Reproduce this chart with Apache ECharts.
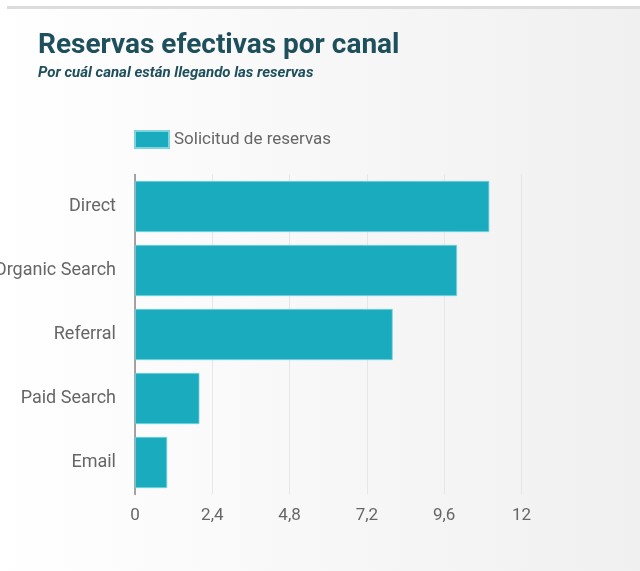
<!DOCTYPE html>
<html><head><meta charset="utf-8">
<script src="https://cdn.jsdelivr.net/npm/echarts@6/dist/echarts.min.js"></script>
<style>html,body{margin:0;padding:0;background:#fff}#c{width:640px;height:571px}</style>
</head><body><div id="c"></div>
<script>
const categories = ['Direct', 'Organic Search', 'Referral', 'Paid Search', 'Email'];
const values = [11, 10, 8, 2, 1];
const seriesName = 'Solicitud de reservas';
const titleText = 'Reservas efectivas por canal';
const subtitleText = 'Por cuál canal están llegando las reservas';

const chart = echarts.init(document.getElementById('c'), null, {renderer: 'canvas'});
chart.setOption({
  backgroundColor: '#ffffff',
  animation: false,
  graphic: [
    {type: 'rect', z: -10, shape: {x: 0, y: 8, width: 640, height: 563},
     style: {fill: new echarts.graphic.LinearGradient(0, 0, 1, 0, [
       {offset: 0, color: '#ffffff'}, {offset: 1, color: '#f0f0f0'}])}},
    {type: 'rect', z: -9, shape: {x: 7, y: 6, width: 633, height: 3},
     style: {fill: '#dcdcdc'}}
  ],
  title: {
    text: titleText, subtext: subtitleText, left: 33, top: 27, itemGap: 6,
    textStyle: {fontFamily: 'Roboto', fontWeight: 'bold', fontSize: 28, color: '#1d4f5c'},
    subtextStyle: {fontFamily: 'Roboto', fontWeight: 'bold', fontStyle: 'italic', fontSize: 15, color: '#1d4f5c'}
  },
  legend: {
    left: 129, top: 125, itemWidth: 34, itemHeight: 17, icon: 'rect', itemGap: 8,
    textStyle: {fontFamily: 'Roboto', fontSize: 17, color: '#666'},
    data: [seriesName]
  },
  grid: {left: 135, right: 118.5, top: 174.5, bottom: 76.5, containLabel: false, outerBoundsMode: 'none'},
  xAxis: {
    type: 'value', min: 0, max: 12, interval: 2.4,
    axisLine: {show: false}, axisTick: {show: false},
    splitLine: {lineStyle: {color: '#e6e6e6', width: 1}},
    axisLabel: {fontFamily: 'Roboto', fontSize: 17, color: '#666', margin: 13,
      formatter: v => String(Math.round(v * 10) / 10).replace('.', ',')}
  },
  yAxis: {
    type: 'category', data: categories, inverse: true,
    axisLine: {lineStyle: {color: '#888', width: 1.5}}, axisTick: {show: false},
    axisLabel: {fontFamily: 'Roboto', fontSize: 18, color: '#666', margin: 19}
  },
  series: [{
    name: seriesName, type: 'bar', data: values, barCategoryGap: '20%',
    itemStyle: {color: '#1aabbf', borderColor: '#7fd3de', borderWidth: 0.8}
  }]
});
</script></body></html>
